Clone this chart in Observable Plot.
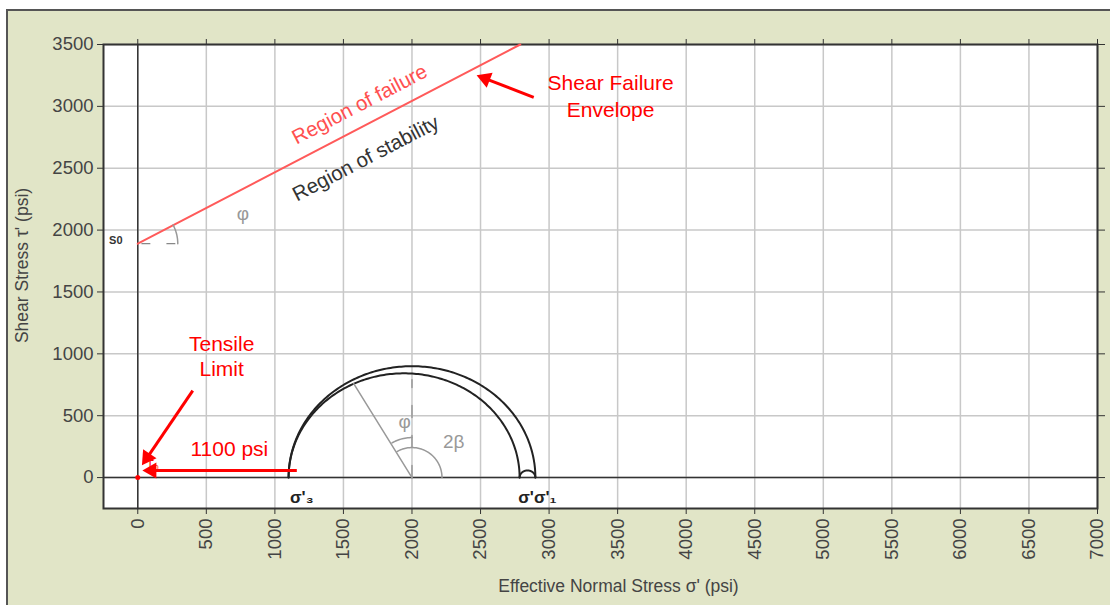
<!DOCTYPE html>
<html><head><meta charset="utf-8">
<script src="https://cdn.jsdelivr.net/npm/d3@7"></script>
<script src="https://cdn.jsdelivr.net/npm/@observablehq/plot@0.6"></script>
<style>
body{margin:0;background:#fff;font-family:"Liberation Sans",Arial,sans-serif;}
#bg{position:absolute;left:6px;top:9px;width:1120px;height:610px;background:#e1e5c7;border:2px solid #555;box-sizing:border-box;}
#chart{position:absolute;left:0;top:0;}
</style></head><body>
<div id="bg"></div><div id="chart"></div>
<script>
// ---- data ----
const xTicks = [0,500,1000,1500,2000,2500,3000,3500,4000,4500,5000,5500,6000,6500,7000];
const yTicks = [0,500,1000,1500,2000,2500,3000,3500];
const envelopeX = [0, 2790];
const envelopeY = [1890, 3500];
const circleSigma3 = [1100, 1100, 2785];
const circleSigma1 = [2900, 2785, 2900];
const radiusLineX = [2000, 1575];
const radiusLineY = [0, 760];
const dashLineX = [2000, 2000];
const dashLineY = [0, 790];
const s0DashX = [30, 300];
const s0DashY = [1890, 1890];
// annotation arrows [x1,y1,x2,y2]
const arrowTensile = [401, 703, 44, 121];
const arrow1100 = [1160, 57, 58, 57];
const arrowEnvelope = [2888, 3072, 2494, 3242];
// labels
const redLabels = ["Tensile", "Limit", "1100 psi", "Shear Failure", "Envelope"];
const redLabelX = [612, 612, 668, 3449, 3449];
const redLabelY = [1075, 873, 226, 3185, 2967];
const grayLabels = ["φ", "φ", "2β"];
const grayLabelX = [766, 1947, 2304];
const grayLabelY = [2134, 453, 291];
const sigmaLabels = ["σ'₃", "σ'σ'₁"];
const sigmaLabelX = [1110, 2775];
const sigmaLabelY = [-162, -162];

// ---- derived geometry ----
const W = 1110, H = 605, ML = 103, MR = 13, MT = 44, MB = 97;
const xDom = [-250, 7000], yDom = [-250, 3500];
const kx = (W - ML - MR) / (xDom[1] - xDom[0]);
const ky = (H - MT - MB) / (yDom[1] - yDom[0]);

const arcs = [];
circleSigma3.forEach((s3, i) => {
  const s1 = circleSigma1[i], c = (s1 + s3) / 2, r = (s1 - s3) / 2;
  for (let a = 0; a <= 180; a += 1) {
    const t = a * Math.PI / 180;
    arcs.push({id: i, x: c + r * Math.cos(t), y: r * Math.sin(t)});
  }
});
function angleArc(cx, cy, rpx, a0, a1, id) {
  const pts = [];
  for (let a = a0; a <= a1; a += 2) {
    const t = a * Math.PI / 180;
    pts.push({id, x: cx + rpx / kx * Math.cos(t), y: cy + rpx / ky * Math.sin(t)});
  }
  return pts;
}
const angleArcs = [
  ...angleArc(2000, 0, 30, 0, 120, "b"),
  ...angleArc(2000, 0, 40, 90, 120, "p"),
  ...angleArc(0, 1890, 40, 0, 28, "s")
];
const arrows = [arrowTensile, arrow1100, arrowEnvelope].map(a => {
  const dxp = (a[2] - a[0]) * kx, dyp = -(a[3] - a[1]) * ky;
  const len = Math.hypot(dxp, dyp), ux = dxp / len, uy = dyp / len;
  return {
    x1: a[0], y1: a[1],
    x2: a[2] - 6 * ux / kx, y2: a[3] + 6 * uy / ky,
    hx: a[2] - 6 * ux / kx, hy: a[3] + 6 * uy / ky,
    angle: Math.atan2(dxp, -dyp) * 180 / Math.PI
  };
});
const envelope = envelopeX.map((x, i) => ({x, y: envelopeY[i]}));
const fmt = d => String(d);
const textRot = -Math.atan2((envelopeY[1] - envelopeY[0]) * ky, (envelopeX[1] - envelopeX[0]) * kx) * 180 / Math.PI;

const chart = Plot.plot({
  width: W, height: H,
  marginLeft: ML, marginRight: MR, marginTop: MT, marginBottom: MB,
  style: {background: "transparent", fontFamily: "'Liberation Sans', Arial, sans-serif"},
  x: {domain: xDom},
  y: {domain: yDom},
  marks: [
    Plot.frame({fill: "white"}),
    Plot.gridX(xTicks, {stroke: "#c8c8c8", strokeOpacity: 1, strokeWidth: 1.5}),
    Plot.gridY(yTicks, {stroke: "#c8c8c8", strokeOpacity: 1, strokeWidth: 1.5}),
    Plot.ruleX([0], {stroke: "#333", strokeWidth: 1.5}),
    Plot.ruleY([0], {stroke: "#333", strokeWidth: 1.5}),
    Plot.frame({stroke: "#333", strokeWidth: 2}),
    Plot.axisY(yTicks, {anchor: "left", tickSize: 6, tickPadding: 4, fontSize: 18.5, color: "#444", stroke: "#333", tickFormat: fmt, label: null}),
    Plot.axisY(yTicks, {anchor: "right", tickSize: 7, tickFormat: () => "", label: null, stroke: "#333"}),
    Plot.axisX(xTicks, {anchor: "bottom", tickSize: 6, tickPadding: 4, tickRotate: -90, fontSize: 18.5, color: "#444", stroke: "#333", tickFormat: fmt, label: null}),
    Plot.axisX(xTicks, {anchor: "top", tickSize: 6, tickFormat: () => "", label: null, stroke: "#333"}),
    Plot.text(["Effective Normal Stress σ' (psi)"], {frameAnchor: "bottom", dx: 18, dy: 83, fontSize: 17.5, fill: "#444"}),
    Plot.text(["Shear Stress τ' (psi)"], {y: [1714], frameAnchor: "left", dx: -81, rotate: -90, textAnchor: "middle", fontSize: 17.5, fill: "#444"}),
    // envelope
    Plot.line(envelope, {x: "x", y: "y", stroke: "#ff5a5a", strokeWidth: 2}),
    Plot.line(s0DashX.map((x, i) => ({x, y: s0DashY[i]})), {x: "x", y: "y", stroke: "#888", strokeWidth: 1.2, strokeDasharray: "8,17"}),
    // Mohr circles
    Plot.line(arcs, {x: "x", y: "y", z: "id", stroke: "#222", strokeWidth: 2, curve: "linear"}),
    Plot.line(radiusLineX.map((x, i) => ({x, y: radiusLineY[i]})), {x: "x", y: "y", stroke: "#999", strokeWidth: 1.5}),
    Plot.line(dashLineX.map((x, i) => ({x, y: dashLineY[i]})), {x: "x", y: "y", stroke: "#999", strokeWidth: 1.5, strokeDasharray: "12,18"}),
    Plot.line(angleArcs, {x: "x", y: "y", z: "id", stroke: "#999", strokeWidth: 1.5}),
    // labels
    Plot.text(grayLabels, {x: grayLabelX, y: grayLabelY, text: d => d, fontSize: 19, fill: "#999"}),
    Plot.text(sigmaLabels, {x: sigmaLabelX, y: sigmaLabelY, text: d => d, textAnchor: "start", fontSize: 17, fill: "#222", fontWeight: "bold"}),
    Plot.text(["S0"], {x: [-160], y: [1916], text: d => d, fontSize: 11, fontWeight: "bold", fill: "#333"}),
    Plot.text(["Region of failure"], {x: [1619], y: [3015], text: d => d, rotate: textRot, fontSize: 20.5, fill: "#ff5050"}),
    Plot.text(["Region of stability"], {x: [1663], y: [2579], text: d => d, rotate: textRot, fontSize: 20.5, fill: "#333"}),
    // red annotations
    Plot.dot([0], {x: d => 0, y: d => 0, r: 2.5, fill: "red"}),
    Plot.text(["T₀"], {x: [109], y: [97], text: d => d, fontSize: 12, fill: "red"}),
    Plot.link(arrows, {x1: "x1", y1: "y1", x2: "x2", y2: "y2", stroke: "red", strokeWidth: 3}),
    Plot.dot(arrows, {x: "hx", y: "hy", rotate: "angle", symbol: "triangle", r: 6, fill: "red", stroke: "none"}),
    Plot.text(redLabels, {x: redLabelX, y: redLabelY, text: d => d, fontSize: 21, fill: "red"})
  ]
});
document.getElementById("chart").appendChild(chart);
</script>
</body></html>
